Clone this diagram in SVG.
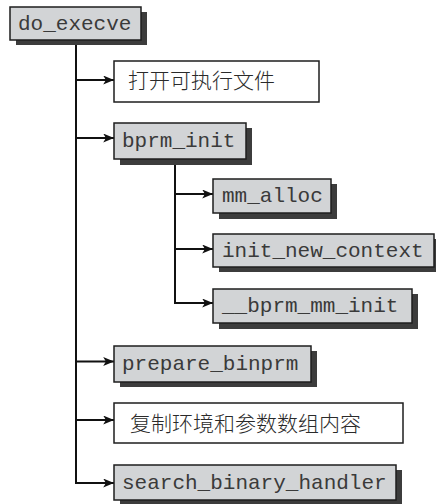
<svg xmlns="http://www.w3.org/2000/svg" width="436" height="504" viewBox="0 0 436 504">
<defs>
<style>
.bg{fill:#ffffff}
.sh{fill:#3c3c3c}
.box{fill:#d2d4d6;stroke:#1e1e1e;stroke-width:1.5}
.wbox{fill:#ffffff;stroke:#1e1e1e;stroke-width:1.5}
.mono{font-family:"Liberation Mono","DejaVu Sans Mono",monospace;font-size:21px;fill:#3a3a3a}
.cjk{font-family:"Noto Sans CJK SC","Noto Sans CJK JP",sans-serif;font-size:21px;fill:#2a2a2a;font-weight:300}
.ln{stroke:#111111;stroke-width:2;fill:none}
</style>
<marker id="arr" viewBox="0 0 12 10" refX="12" refY="5" markerWidth="12" markerHeight="9" markerUnits="userSpaceOnUse" orient="auto">
<path d="M0,0 L12,5 L0,10 L3,5 Z" fill="#111111"/>
</marker>
</defs>
<rect class="bg" x="0" y="0" width="436" height="504"/>

<g id="connectors">
<line class="ln" x1="76" y1="40" x2="76" y2="484"/>
<line class="ln" x1="76" y1="80" x2="114" y2="80" marker-end="url(#arr)"/>
<line class="ln" x1="76" y1="138" x2="114" y2="138" marker-end="url(#arr)"/>
<line class="ln" x1="76" y1="361.5" x2="114" y2="361.5" marker-end="url(#arr)"/>
<line class="ln" x1="76" y1="420" x2="114" y2="420" marker-end="url(#arr)"/>
<line class="ln" x1="75" y1="483" x2="114" y2="483" marker-end="url(#arr)"/>
<line class="ln" x1="175" y1="159" x2="175" y2="304"/>
<line class="ln" x1="175" y1="194" x2="213" y2="194" marker-end="url(#arr)"/>
<line class="ln" x1="175" y1="249" x2="213" y2="249" marker-end="url(#arr)"/>
<line class="ln" x1="174" y1="303" x2="213" y2="303" marker-end="url(#arr)"/>
</g>

<g id="do_execve">
<rect class="sh" x="16" y="12" width="131" height="33"/>
<rect class="box" x="10" y="7" width="131" height="33"/>
<text class="mono" x="18" y="30">do_execve</text>
</g>

<g id="open_exec">
<rect class="wbox" x="114" y="61" width="205" height="41"/>
<text class="cjk" x="128" y="88">打开可执行文件</text>
</g>

<g id="bprm_init">
<rect class="sh" x="120" y="128" width="132" height="37"/>
<rect class="box" x="114" y="123" width="132" height="36"/>
<text class="mono" x="122" y="147">bprm_init</text>
</g>

<g id="mm_alloc">
<rect class="sh" x="219" y="184" width="118" height="35"/>
<rect class="box" x="213" y="179" width="118" height="34"/>
<text class="mono" x="222" y="202">mm_alloc</text>
</g>

<g id="init_new_context">
<rect class="sh" x="219" y="239" width="222" height="33"/>
<rect class="box" x="213" y="234" width="221" height="33"/>
<text class="mono" x="222" y="257">init_new_context</text>
</g>

<g id="bprm_mm_init">
<rect class="sh" x="219" y="294" width="199" height="35"/>
<rect class="box" x="213" y="289" width="199" height="34"/>
<text class="mono" x="222" y="312">__bprm_mm_init</text>
</g>

<g id="prepare_binprm">
<rect class="sh" x="120" y="351" width="197" height="36"/>
<rect class="box" x="114" y="346" width="197" height="36"/>
<text class="mono" x="122" y="370">prepare_binprm</text>
</g>

<g id="copy_strings">
<rect class="wbox" x="114" y="403" width="289" height="40"/>
<text class="cjk" x="130" y="431">复制环境和参数数组内容</text>
</g>

<g id="search_binary_handler">
<rect class="sh" x="120" y="470" width="282" height="36"/>
<rect class="box" x="114" y="465" width="282" height="35"/>
<text class="mono" x="122" y="489">search_binary_handler</text>
</g>
</svg>
